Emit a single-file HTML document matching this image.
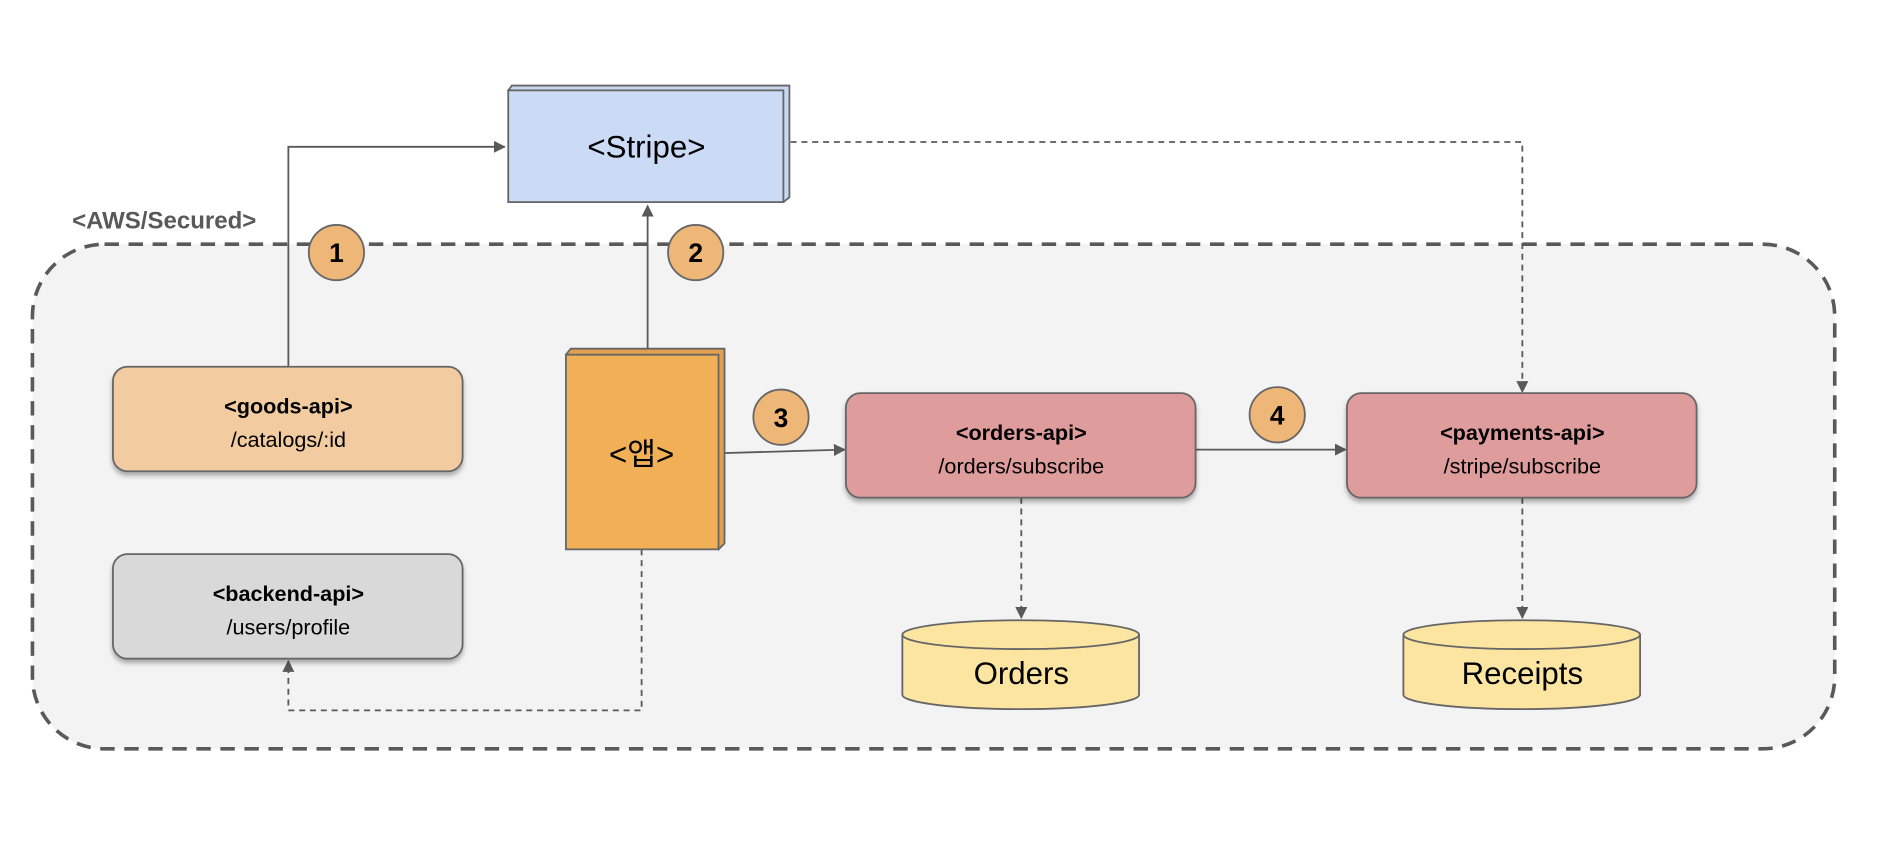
<!DOCTYPE html>
<html><head><meta charset="utf-8"><style>
html,body{margin:0;padding:0;background:#fff;width:1884px;height:862px;overflow:hidden}
svg{display:block}
text{font-family:"Liberation Sans","Noto Sans CJK KR",sans-serif}
</style></head><body>
<svg width="1884" height="862" viewBox="0 0 1568 717" xmlns="http://www.w3.org/2000/svg">
<defs>
<marker id="a" markerWidth="10" markerHeight="10" refX="9" refY="5" orient="auto" markerUnits="userSpaceOnUse"><path d="M0,0 L10,5 L0,10 z" fill="#595959"/></marker>
<filter id="sh" x="-10%" y="-10%" width="120%" height="130%"><feDropShadow dx="0" dy="3" stdDeviation="2" flood-color="#000" flood-opacity="0.3"/></filter>
</defs>
<rect x="27" y="203" width="1500" height="420" rx="60" fill="#f3f3f3" stroke="#595959" stroke-width="3" stroke-dasharray="12,8"/>
<text x="60" y="190" font-size="20" font-weight="bold" fill="#595959">&lt;AWS/Secured&gt;</text>
<!-- Stripe -->
<path d="M423,75 L426,71 L657,71 L657,164 L652,168 Z" fill="#c9d8f2" stroke="#666" stroke-width="1.5"/>
<rect x="423" y="75" width="229" height="93" fill="#cbdaf5" stroke="#666" stroke-width="1.5"/>
<text x="538" y="131" font-size="26" text-anchor="middle">&lt;Stripe&gt;</text>
<!-- lines -->
<g stroke="#595959" stroke-width="1.5" fill="none">
<path d="M240,305 V122 H420" marker-end="url(#a)"/>
<path d="M539,290 V171" marker-end="url(#a)"/>
<path d="M598,377 L703,374" marker-end="url(#a)"/>
<path d="M995,374 H1120" marker-end="url(#a)"/>
<path d="M658,118 H1267 V326" stroke-dasharray="5,4" marker-end="url(#a)"/>
<path d="M850,414 V514" stroke-dasharray="5,4" marker-end="url(#a)"/>
<path d="M1267,414 V514" stroke-dasharray="5,4" marker-end="url(#a)"/>
<path d="M534,457 V591 H240 V550" stroke-dasharray="5,4" marker-end="url(#a)"/>
</g>
<!-- boxes -->
<g filter="url(#sh)" stroke="#666" stroke-width="1.5">
<rect x="94" y="305" width="291" height="87" rx="12" fill="#f2cca0"/>
<rect x="94" y="461" width="291" height="87" rx="12" fill="#d9d9d9"/>
<rect x="704" y="327" width="291" height="87" rx="12" fill="#df9c9c"/>
<rect x="1121" y="327" width="291" height="87" rx="12" fill="#df9c9c"/>
</g>
<g font-size="18" text-anchor="middle">
<text x="240" y="344" font-weight="bold">&lt;goods-api&gt;</text><text x="240" y="372">/catalogs/:id</text>
<text x="240" y="500" font-weight="bold">&lt;backend-api&gt;</text><text x="240" y="528">/users/profile</text>
<text x="850" y="366" font-weight="bold">&lt;orders-api&gt;</text><text x="850" y="394">/orders/subscribe</text>
<text x="1267" y="366" font-weight="bold">&lt;payments-api&gt;</text><text x="1267" y="394">/stripe/subscribe</text>
</g>
<!-- app -->
<path d="M471,295 L475,290 L603,290 L603,452 L598,457 Z" fill="#e0a050" stroke="#666" stroke-width="1.5"/>
<rect x="471" y="295" width="127" height="162" fill="#f1b056" stroke="#666" stroke-width="1.5"/>
<text x="534" y="387" font-size="26" text-anchor="middle">&lt;앱&gt;</text>
<!-- cylinders -->
<g stroke="#666" stroke-width="1.5" fill="#fce5a0">
<path d="M751,528 V578 A98.5,12 0 0 0 948,578 V528"/>
<ellipse cx="849.5" cy="528" rx="98.5" ry="12"/>
<path d="M1168,528 V578 A98.5,12 0 0 0 1365,578 V528"/>
<ellipse cx="1266.5" cy="528" rx="98.5" ry="12"/>
</g>
<text x="850" y="569" font-size="26" text-anchor="middle">Orders</text>
<text x="1267" y="569" font-size="26" text-anchor="middle">Receipts</text>
<!-- circles -->
<g stroke="#666" stroke-width="1.5" fill="#eeb677">
<circle cx="280" cy="210" r="23"/><circle cx="579" cy="210" r="23"/>
<circle cx="650" cy="347" r="23"/><circle cx="1063" cy="345" r="23"/>
</g>
<g font-size="22" font-weight="bold" text-anchor="middle">
<text x="280" y="218">1</text><text x="579" y="218">2</text>
<text x="650" y="355">3</text><text x="1063" y="353">4</text>
</g>
</svg>
</body></html>
